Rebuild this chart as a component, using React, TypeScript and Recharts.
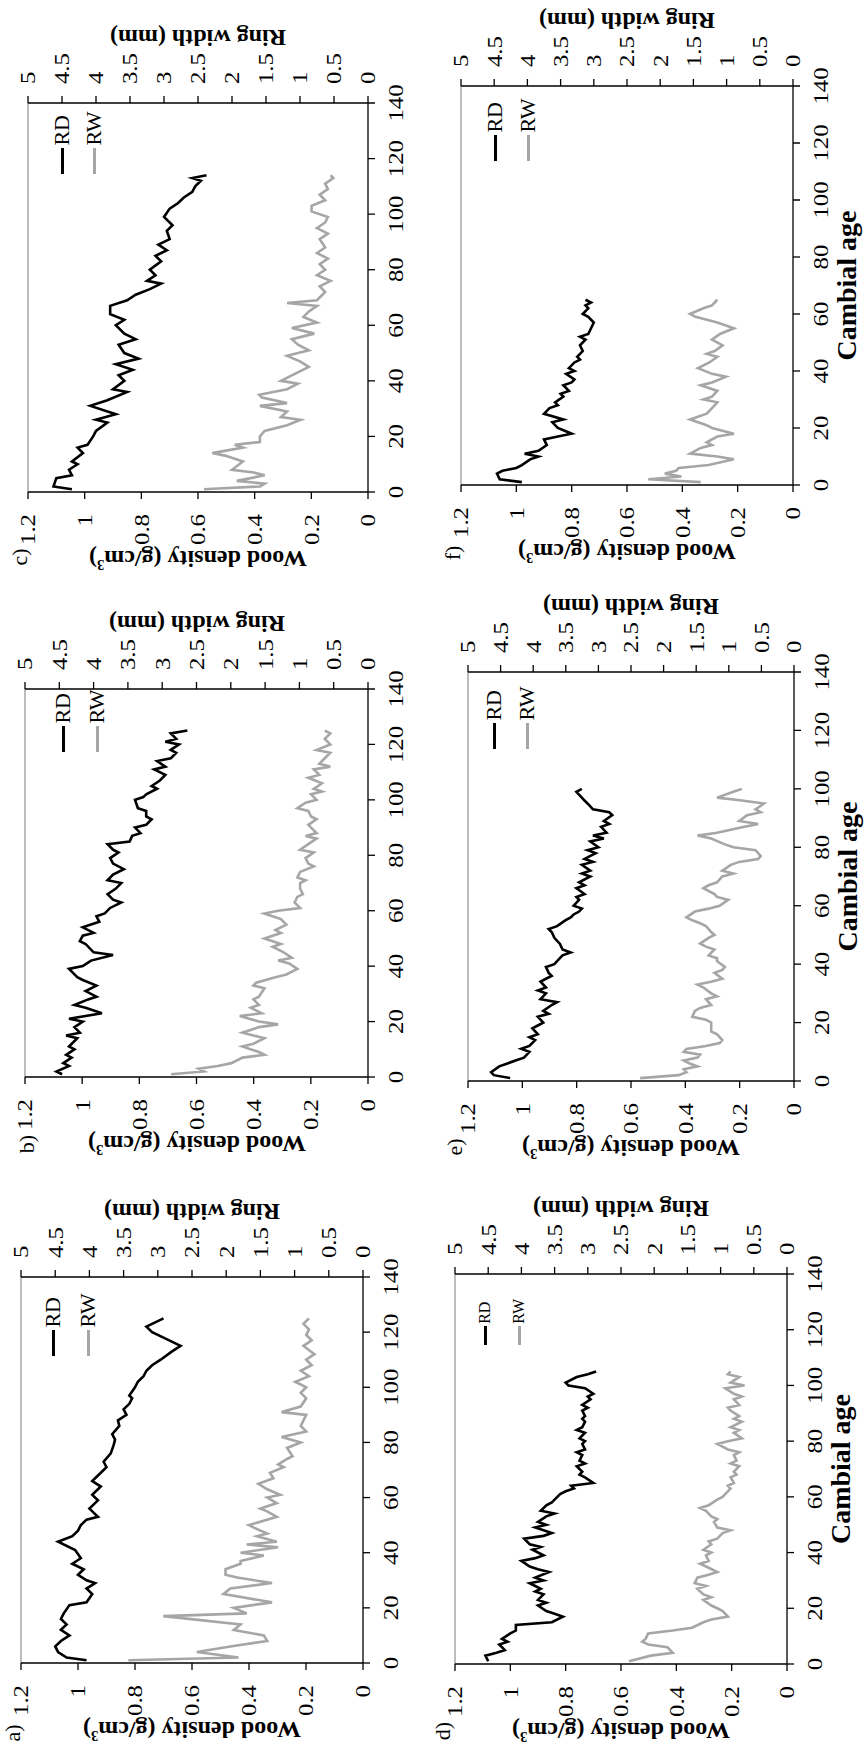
import React from "react";
import { ComposedChart, Line, XAxis, YAxis, ReferenceLine } from "recharts";

type Pt = [number, number];

const ageTicks = [0, 20, 40, 60, 80, 100, 120, 140];
const densityTicks = [0, 0.2, 0.4, 0.6, 0.8, 1, 1.2];
const widthTicks = [0, 0.5, 1, 1.5, 2, 2.5, 3, 3.5, 4, 4.5, 5];

// [cambial age, ring density g/cm3] and [cambial age, ring width mm]
const aRD: Pt[] = [[1,0.97],[2,1.04],[4,1.07],[6,1.08],[8,1.06],[10,1.03],[12,1.06],[14,1.04],[16,1.06],[18,1.05],[21,1.03],[22,0.97],[25,0.95],[27,0.97],[29,0.94],[30,0.97],[32,1.0],[34,0.98],[36,1.02],[38,0.99],[41,1.01],[44,1.07],[46,1.02],[48,1.0],[50,0.99],[52,0.97],[53,0.93],[56,0.96],[59,0.93],[61,0.95],[64,0.92],[66,0.95],[68,0.93],[71,0.9],[73,0.91],[76,0.885],[79,0.875],[81,0.87],[83,0.88],[86,0.855],[88,0.86],[90,0.83],[92,0.84],[94,0.82],[96,0.81],[97,0.82],[100,0.8],[102,0.79],[104,0.77],[106,0.76],[108,0.74],[110,0.71],[113,0.67],[115,0.64],[118,0.7],[120,0.74],[122,0.76],[124,0.72],[125,0.7]];
const aRW: Pt[] = [[1,3.43],[2,1.82],[4,2.43],[6,1.94],[8,1.4],[10,1.45],[12,1.89],[14,1.79],[17,2.92],[18,1.7],[20,1.89],[22,1.33],[25,2.04],[27,1.94],[29,1.33],[31,1.84],[32,2.01],[34,2.01],[36,1.79],[37,1.79],[39,1.45],[40,1.79],[42,1.24],[43,1.7],[44,1.26],[46,1.55],[47,1.4],[48,1.5],[50,1.67],[53,1.26],[55,1.4],[56,1.5],[58,1.26],[60,1.4],[61,1.21],[63,1.4],[65,1.53],[67,1.31],[69,1.36],[71,1.16],[72,1.24],[74,1.11],[75,1.03],[78,1.11],[80,0.91],[82,1.19],[84,0.83],[86,0.91],[88,0.87],[90,0.83],[91,1.19],[93,0.91],[96,0.83],[98,0.91],[100,0.83],[102,0.99],[104,0.79],[106,0.91],[108,0.75],[110,0.83],[112,0.71],[115,0.87],[117,0.75],[119,0.83],[121,0.79],[123,0.87],[125,0.79]];

const bRD: Pt[] = [[1,1.07],[2,1.09],[4,1.046],[5,1.066],[7,1.037],[8,1.056],[10,1.027],[11,1.046],[14,1.017],[15,1.056],[16,1.008],[18,1.027],[20,0.998],[21,1.046],[23,0.931],[25,0.988],[26,1.027],[28,0.979],[29,0.95],[31,0.988],[33,0.95],[35,0.998],[36,1.017],[39,1.046],[40,0.998],[42,0.969],[44,0.892],[45,0.96],[48,0.988],[49,1.008],[51,0.998],[52,0.96],[54,0.998],[56,0.94],[58,0.95],[59,0.921],[61,0.902],[63,0.863],[64,0.892],[66,0.911],[68,0.882],[70,0.863],[71,0.911],[73,0.892],[75,0.854],[77,0.892],[79,0.902],[81,0.873],[82,0.892],[84,0.911],[85,0.834],[87,0.825],[88,0.796],[90,0.815],[91,0.776],[93,0.757],[94,0.776],[96,0.776],[97,0.805],[100,0.815],[101,0.786],[102,0.776],[104,0.738],[105,0.757],[107,0.728],[109,0.709],[111,0.748],[112,0.709],[114,0.738],[115,0.69],[117,0.671],[118,0.69],[120,0.661],[121,0.709],[122,0.671],[124,0.69],[125,0.632]];
const bRW: Pt[] = [[1,2.87],[2,2.39],[3,2.47],[4,2.19],[5,1.99],[7,1.83],[8,1.51],[9,1.59],[11,1.83],[12,1.67],[14,1.51],[15,1.67],[16,1.83],[18,1.59],[19,1.31],[20,1.59],[22,1.87],[23,1.55],[25,1.71],[26,1.59],[28,1.67],[29,1.59],[32,1.51],[33,1.67],[34,1.63],[36,1.35],[37,1.19],[39,1.03],[41,1.15],[42,1.31],[43,1.11],[45,1.23],[47,1.39],[48,1.27],[50,1.51],[52,1.27],[53,1.35],[55,1.19],[57,1.27],[59,1.51],[60,1.31],[61,0.99],[63,1.07],[65,1.03],[66,0.95],[68,0.99],[70,0.99],[71,0.91],[72,1.03],[74,0.99],[76,0.79],[77,0.87],[79,0.91],[81,0.79],[82,0.99],[84,0.87],[86,0.75],[87,0.91],[88,0.75],[91,0.87],[93,0.75],[94,0.83],[96,0.87],[97,1.03],[99,0.91],[100,0.75],[102,0.83],[103,0.67],[104,0.79],[106,0.67],[108,0.87],[109,0.71],[111,0.79],[112,0.55],[113,0.71],[115,0.63],[117,0.55],[118,0.75],[120,0.55],[122,0.63],[124,0.55],[125,0.63]];

const cRD: Pt[] = [[1,1.045],[2,1.11],[5,1.1],[6,1.045],[8,1.055],[10,1.025],[11,1.045],[14,1.006],[16,1.025],[17,0.99],[20,0.97],[22,0.96],[25,0.92],[26,0.96],[28,0.89],[31,0.98],[33,0.92],[36,0.85],[37,0.9],[40,0.86],[42,0.88],[44,0.83],[46,0.89],[48,0.81],[50,0.86],[53,0.88],[55,0.82],[57,0.86],[60,0.89],[62,0.86],[64,0.91],[67,0.91],[69,0.85],[71,0.82],[73,0.77],[75,0.73],[76,0.78],[78,0.75],[80,0.77],[83,0.73],[85,0.75],[87,0.71],[89,0.74],[91,0.7],[94,0.71],[96,0.69],[99,0.72],[102,0.7],[104,0.67],[106,0.65],[108,0.62],[110,0.61],[112,0.59],[113,0.62],[114,0.57]];
const cRW: Pt[] = [[1,2.41],[2,1.59],[3,1.52],[4,1.93],[6,1.52],[7,1.68],[8,2.0],[11,1.84],[13,2.09],[14,2.29],[16,1.84],[17,1.96],[18,1.59],[20,1.59],[22,1.52],[24,1.19],[26,0.99],[27,1.28],[29,1.19],[31,1.59],[32,1.19],[34,1.56],[35,1.6],[37,1.19],[39,1.03],[40,1.28],[42,1.12],[45,0.87],[47,1.0],[49,1.19],[51,0.87],[53,1.03],[55,1.12],[57,0.79],[59,1.12],[61,0.75],[63,0.95],[65,0.87],[67,0.75],[68,1.19],[69,0.75],[72,0.63],[74,0.71],[76,0.55],[78,0.75],[80,0.63],[82,0.71],[84,0.59],[86,0.75],[88,0.63],[91,0.71],[93,0.59],[95,0.75],[97,0.63],[99,0.59],[101,0.83],[103,0.83],[105,0.63],[107,0.71],[109,0.59],[111,0.63],[113,0.51],[114,0.55]];

const dRD: Pt[] = [[1,1.08],[3,1.09],[4,1.05],[5,1.02],[7,1.04],[8,1.01],[9,1.03],[11,1.0],[12,0.98],[14,0.98],[15,0.85],[17,0.81],[18,0.84],[19,0.87],[21,0.9],[22,0.87],[23,0.9],[25,0.88],[26,0.91],[27,0.89],[29,0.93],[30,0.88],[31,0.91],[33,0.86],[34,0.9],[35,0.93],[37,0.96],[38,0.91],[39,0.88],[41,0.92],[42,0.89],[43,0.93],[45,0.95],[46,0.88],[47,0.85],[49,0.91],[50,0.87],[51,0.9],[53,0.87],[54,0.84],[55,0.89],[57,0.87],[58,0.85],[59,0.84],[61,0.82],[62,0.8],[63,0.77],[64,0.78],[65,0.7],[67,0.73],[68,0.75],[69,0.74],[71,0.76],[72,0.73],[73,0.75],[75,0.74],[76,0.76],[77,0.73],[79,0.74],[80,0.73],[81,0.75],[83,0.73],[84,0.76],[85,0.74],[87,0.73],[88,0.74],[89,0.73],[91,0.74],[92,0.72],[93,0.74],[95,0.71],[96,0.72],[97,0.7],[99,0.73],[100,0.79],[101,0.8],[103,0.76],[104,0.72],[105,0.69]];
const dRW: Pt[] = [[1,2.38],[3,2.05],[4,1.72],[5,1.76],[6,1.8],[7,2.09],[8,2.18],[9,2.13],[11,2.09],[12,1.72],[13,1.43],[15,1.26],[16,1.14],[17,0.89],[19,0.97],[20,1.05],[21,1.14],[23,1.26],[24,1.14],[25,1.26],[27,1.35],[28,1.22],[29,1.39],[31,1.35],[32,1.18],[33,1.05],[35,1.22],[36,1.31],[37,1.18],[39,1.22],[40,1.14],[41,1.26],[43,1.14],[44,1.18],[45,1.05],[47,0.97],[48,0.85],[49,1.05],[51,1.1],[52,1.05],[53,1.14],[55,1.22],[56,1.31],[57,1.18],[59,1.05],[60,0.97],[61,0.93],[63,0.85],[64,0.89],[65,0.8],[67,0.85],[68,0.76],[69,0.8],[71,0.72],[72,0.85],[73,0.76],[75,0.8],[76,0.72],[77,0.89],[79,1.05],[80,0.89],[81,0.68],[83,0.8],[84,0.72],[85,0.85],[87,0.68],[88,0.8],[89,0.72],[91,0.85],[92,0.89],[93,0.72],[95,0.8],[96,0.68],[97,0.8],[99,0.93],[100,0.64],[101,0.85],[103,0.72],[104,0.89],[105,0.85]];

const eRD: Pt[] = [[1,1.045],[2,1.105],[3,1.115],[5,1.085],[6,1.055],[7,1.025],[8,0.994],[10,0.974],[11,1.004],[12,0.974],[14,0.953],[15,0.974],[16,0.943],[18,0.963],[19,0.943],[20,0.923],[22,0.943],[23,0.903],[24,0.923],[26,0.892],[27,0.872],[28,0.933],[30,0.913],[31,0.943],[32,0.913],[34,0.933],[35,0.913],[36,0.892],[37,0.903],[39,0.913],[40,0.882],[41,0.872],[43,0.852],[44,0.822],[45,0.852],[47,0.862],[48,0.872],[49,0.882],[51,0.892],[52,0.903],[53,0.872],[55,0.842],[56,0.822],[57,0.811],[58,0.791],[59,0.781],[60,0.811],[62,0.791],[63,0.801],[64,0.771],[66,0.801],[67,0.771],[68,0.791],[70,0.75],[71,0.781],[72,0.75],[74,0.781],[75,0.74],[76,0.771],[78,0.73],[79,0.76],[80,0.72],[82,0.75],[83,0.7],[84,0.74],[85,0.69],[87,0.71],[88,0.68],[89,0.7],[91,0.669],[92,0.68],[93,0.74],[95,0.76],[96,0.771],[97,0.781],[99,0.801],[100,0.781]];
const eRW: Pt[] = [[1,2.36],[2,1.77],[3,1.65],[4,1.69],[5,1.48],[6,1.6],[7,1.69],[8,1.48],[9,1.44],[10,1.69],[11,1.65],[12,1.35],[13,1.14],[14,1.1],[16,1.18],[17,1.27],[18,1.27],[20,1.27],[21,1.35],[22,1.56],[24,1.52],[25,1.44],[26,1.27],[28,1.35],[29,1.18],[30,1.27],[32,1.39],[33,1.48],[34,1.27],[35,1.1],[37,1.22],[38,1.1],[39,1.06],[41,1.18],[42,1.18],[43,1.31],[45,1.22],[46,1.35],[47,1.44],[49,1.31],[50,1.22],[51,1.27],[53,1.35],[54,1.44],[55,1.56],[56,1.65],[58,1.52],[59,1.31],[60,1.14],[62,1.01],[63,1.18],[64,1.22],[66,1.39],[67,1.31],[68,1.18],[70,1.1],[71,0.93],[72,1.1],[74,0.97],[75,0.84],[76,0.55],[77,0.51],[79,0.59],[80,0.93],[81,1.06],[83,1.27],[84,1.48],[85,1.18],[87,0.76],[88,0.55],[89,0.84],[91,0.72],[92,0.51],[93,0.59],[95,0.46],[96,0.8],[97,1.18],[99,0.93],[100,0.8]];

const fRD: Pt[] = [[1,0.98],[2,1.06],[4,1.07],[5,1.05],[6,1.0],[7,0.98],[9,0.95],[10,0.92],[11,0.97],[12,0.92],[14,0.89],[16,0.9],[17,0.85],[18,0.8],[20,0.85],[22,0.87],[23,0.83],[25,0.9],[27,0.88],[28,0.85],[29,0.86],[31,0.83],[32,0.84],[33,0.81],[35,0.83],[36,0.8],[37,0.79],[39,0.82],[40,0.79],[41,0.81],[43,0.79],[44,0.77],[45,0.78],[47,0.76],[49,0.77],[51,0.75],[52,0.77],[53,0.74],[55,0.73],[57,0.72],[59,0.74],[60,0.76],[62,0.74],[63,0.75],[64,0.73],[65,0.75]];
const fRW: Pt[] = [[1,1.39],[2,2.18],[3,1.68],[4,1.93],[5,1.76],[6,1.72],[7,1.27],[9,0.89],[10,1.14],[11,1.55],[13,1.39],[14,1.22],[15,1.3],[17,1.14],[18,0.89],[20,1.22],[21,1.3],[23,1.55],[25,1.3],[27,1.22],[29,1.14],[30,1.35],[31,1.22],[33,1.14],[35,1.39],[36,1.22],[38,1.01],[39,1.22],[41,1.43],[43,1.26],[45,1.14],[46,1.3],[47,1.18],[49,1.06],[51,1.22],[53,1.1],[55,0.89],[57,1.14],[59,1.47],[60,1.55],[62,1.35],[63,1.22],[65,1.14]];

const FONT = '"Liberation Serif", "Times New Roman", serif';
const GREY = "#a6a6a6";
const LW = 80;
const RWW = 80;
const TOPM = 20;
const XH = 50;

type PanelCfg = {
  letter: string;
  rd: Pt[];
  rw: Pt[];
  left: number; right: number; top: number; bottom: number;
  lx: number; ly1: number; ly2: number; lfs: number;
  tx: number; ty: number;
  age: boolean;
};

// plot rectangles are in the un-rotated figure (1751 x 865), which is turned 90deg anticlockwise on the page
const panels: PanelCfg[] = [
  { letter: "a)", rd: aRD, rw: aRW, left: 88, right: 474, top: 21, bottom: 363, lx: 307, ly1: 32, ly2: 67, lfs: 22, tx: 18, ty: 13, age: false },
  { letter: "b)", rd: bRD, rw: bRW, left: 674, right: 1062, top: 25, bottom: 368, lx: 325, ly1: 38, ly2: 72, lfs: 22, tx: 607, ty: 27, age: false },
  { letter: "c)", rd: cRD, rw: cRW, left: 1259, right: 1648, top: 28, bottom: 368, lx: 318, ly1: 34, ly2: 66, lfs: 22, tx: 1194, ty: 20, age: false },
  { letter: "d)", rd: dRD, rw: dRW, left: 87, right: 477, top: 455, bottom: 787, lx: 319, ly1: 30, ly2: 64, lfs: 16, tx: 20, ty: 443, age: true },
  { letter: "e)", rd: eRD, rw: eRW, left: 670, right: 1079, top: 468, bottom: 794, lx: 332, ly1: 26, ly2: 59, lfs: 22, tx: 604, ty: 455, age: true },
  { letter: "f)", rd: fRD, rw: fRW, left: 1266, right: 1665, top: 461, bottom: 793, lx: 324, ly1: 34, ly2: 67, lfs: 22, tx: 1198, ty: 453, age: true },
];

// tick text, widened a little like the scanned figure
function Tick(props: any) {
  const { x, y, payload, textAnchor, verticalAnchor } = props;
  const dy = verticalAnchor === "start" ? "0.71em" : verticalAnchor === "end" ? "0" : "0.355em";
  return (
    <text x={x} y={y} dy={dy} textAnchor={textAnchor} fontFamily={FONT} fontSize={21} fill="#000"
      transform={`translate(${x} ${y}) scale(1.18 1) translate(${-x} ${-y})`}>
      {payload.value}
    </text>
  );
}

function T({ x, y, angle = 0, size, bold = false, children }: { x: number; y: number; angle?: number; size: number; bold?: boolean; children: React.ReactNode }) {
  return (
    <div style={{
      position: "absolute", left: x, top: y,
      transform: `translate(-50%, -50%) rotate(${angle}deg)`,
      fontFamily: FONT, fontSize: size, fontWeight: bold ? 700 : 400,
      whiteSpace: "nowrap", lineHeight: 1, color: "#000",
    }}>
      {children}
    </div>
  );
}

function LegendRow({ x, y, color, label, size }: { x: number; y: number; color: string; label: string; size: number }) {
  return (
    <div style={{ position: "absolute", left: x, top: y, transform: "translateY(-50%)", display: "flex", alignItems: "center", fontFamily: FONT, fontSize: size, lineHeight: 1, whiteSpace: "nowrap" }}>
      <div style={{ width: size * 1.2, height: 3, background: color, marginRight: 2 }} />
      <span>{label}</span>
    </div>
  );
}

function Panel({ p }: { p: PanelCfg }) {
  const plotW = p.right - p.left;
  const plotH = p.bottom - p.top;
  const W = plotW + LW + RWW;
  const H = plotH + TOPM + XH;
  const rd = p.rd.map(([age, v]) => ({ age, v }));
  const rw = p.rw.map(([age, v]) => ({ age, v }));
  const line = { stroke: "#000", strokeWidth: 1.3 };
  const cy = (p.top + p.bottom) / 2;
  return (
    <>
      <div style={{ position: "absolute", left: p.left - LW, top: p.top - TOPM }}>
        <ComposedChart width={W} height={H} margin={{ top: TOPM, right: 0, bottom: 0, left: 0 }}>
          <XAxis type="number" dataKey="age" domain={[0, 140]} ticks={ageTicks} interval={0} allowDataOverflow
            height={XH} tickSize={7} tickMargin={13} tick={<Tick />} axisLine={line} tickLine={line} />
          <YAxis yAxisId="left" type="number" domain={[0, 1.2]} ticks={densityTicks} interval={0} allowDataOverflow
            width={LW} tickSize={7} tickMargin={15} tick={<Tick />} axisLine={line} tickLine={line} />
          <YAxis yAxisId="right" orientation="right" type="number" domain={[0, 5]} ticks={widthTicks} interval={0} allowDataOverflow
            width={RWW} tickSize={7} tickMargin={12} tick={<Tick />} axisLine={line} tickLine={line} />
          <ReferenceLine yAxisId="left" y={1.2} stroke="#999" strokeWidth={1.3} />
          <Line yAxisId="right" data={rw} dataKey="v" type="linear" stroke={GREY} strokeWidth={2.6} dot={false} isAnimationActive={false} />
          <Line yAxisId="left" data={rd} dataKey="v" type="linear" stroke="#000" strokeWidth={2.6} dot={false} isAnimationActive={false} />
        </ComposedChart>
      </div>
      <T x={p.left - 67} y={cy} angle={-90} size={24} bold>
        Wood density (g/cm<sup style={{ fontSize: "0.6em" }}>3</sup>)
      </T>
      <T x={p.right + 65} y={cy} angle={-90} size={24} bold>Ring width (mm)</T>
      <T x={p.tx} y={p.ty} size={22}>{p.letter}</T>
      {p.age && <T x={(p.left + p.right) / 2} y={p.bottom + 54} size={28} bold>Cambial age</T>}
      <LegendRow x={p.left + p.lx} y={p.top + p.ly1} color="#000" label="RD" size={p.lfs} />
      <LegendRow x={p.left + p.lx} y={p.top + p.ly2} color={GREY} label="RW" size={p.lfs} />
    </>
  );
}

export default function App() {
  return (
    <div style={{ position: "absolute", left: 0, top: 0, width: 865, height: 1751, overflow: "hidden", background: "#fff" }}>
      <div style={{ position: "absolute", left: 0, top: 0, width: 1751, height: 865, transformOrigin: "0 0", transform: "translate(0px, 1751px) rotate(-90deg)" }}>
        {panels.map((p) => <Panel key={p.letter} p={p} />)}
      </div>
    </div>
  );
}
